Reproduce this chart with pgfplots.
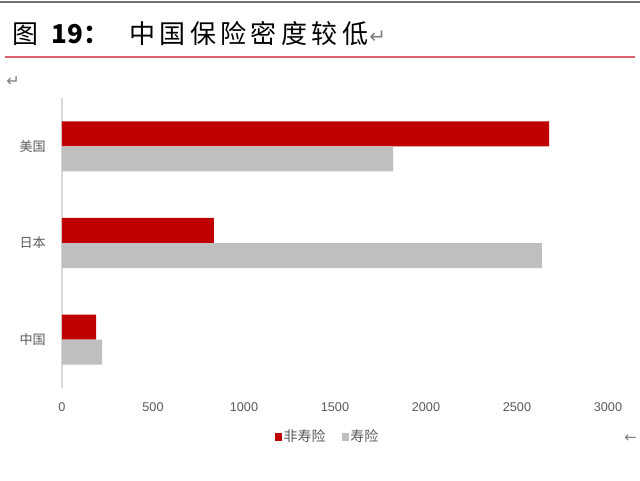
\documentclass[border=0pt]{standalone}
\usepackage{fontspec}
\setmainfont{Liberation Sans}
\newfontfamily\cjk{Noto Sans CJK SC}
\newfontfamily\sym{DejaVu Sans}
\usepackage{xcolor}
\usepackage{pgfplots}
\pgfplotsset{compat=1.18}

\definecolor{barred}{HTML}{C00000}
\definecolor{bargray}{HTML}{BFBFBF}
\definecolor{ticktext}{HTML}{595959}
\definecolor{axisgray}{HTML}{D9D9D9}
\definecolor{ruleline}{HTML}{E0606E}

\begin{document}
\begin{tikzpicture}
  % page frame, 640 x 480 px (1px = 0.75pt), origin top left
  \path[use as bounding box] (0,0) rectangle (480pt,-360pt);

  \begin{scope}[x=0.75pt,y=-0.75pt]
    % heading
    \draw[gray!90!black,line width=1.5pt] (0,2) -- (640,2);
    \node[anchor=base west,inner sep=0pt] at (12,43)
      {\fontsize{19.5}{22}\selectfont\cjk 图\hspace{10pt}{\bfseries 19：}\hspace{15pt}{\addfontfeature{LetterSpace=17}中国保险密度较低}};
    \node[anchor=base west,inner sep=0pt,text=gray] at (369,43) {\fontsize{15}{18}\selectfont\sym ↵};
    \draw[ruleline,line width=0.8pt] (5,57) -- (635,57);
    \node[anchor=base west,inner sep=0pt,text=gray] at (6,86) {\fontsize{12}{14}\selectfont\sym ↵};
    \node[anchor=base west,inner sep=0pt,text=gray] at (624,442) {\fontsize{11}{13}\selectfont\sym ←};
  \end{scope}

  \begin{axis}[
      at={(46.5pt,-291pt)}, anchor=south west,
      scale only axis,
      width=409.5pt, height=217.5pt,
      xbar, bar width=18.75pt,
      xmin=0, xmax=3000,
      ymin=-0.5, ymax=2.5,
      xtick={0,500,...,3000},
      ytick={0,1,2},
      yticklabels={中国,日本,美国},
      axis lines*=left,
      x axis line style={draw=none},
      y axis line style={axisgray, line width=0.8pt},
      major tick length=0pt,
      tick style={draw=none},
      ticklabel style={text=ticktext},
      xticklabel style={font=\fontsize{9.5}{11}\selectfont, inner ysep=0pt, yshift=-11pt},
      yticklabel style={font=\fontsize{9.8}{11}\selectfont\cjk, inner xsep=0pt, xshift=-12pt},
      /pgf/number format/assume math mode=true,
      /pgf/number format/1000 sep={},
      legend style={at={(0.486,-0.169)}, anchor=center, draw=none, fill=none,
        font=\fontsize{10.5}{12}\selectfont\cjk, text=ticktext,
        legend columns=2,
        nodes={inner xsep=1pt},
        /tikz/every odd column/.append style={column sep=0pt},
        /tikz/every even column/.append style={column sep=11pt}},
      legend image code/.code={\fill[#1] (0pt,-2.8pt) rectangle (5.6pt,2.8pt);},
    ]
    \addplot[fill=barred, draw=none, bar shift=9.4pt] coordinates {
      (187,0) (835,1) (2677,2)
    };
    \addlegendentry{非寿险}
    \addplot[fill=bargray, draw=none, bar shift=-9.4pt] coordinates {
      (221,0) (2636,1) (1819,2)
    };
    \addlegendentry{寿险}
  \end{axis}
\end{tikzpicture}
\end{document}
